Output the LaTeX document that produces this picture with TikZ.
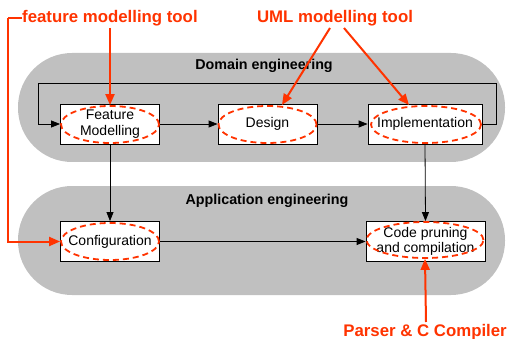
\documentclass[tikz,border=0pt]{standalone}
\usepackage{fontspec}
\setmainfont{Liberation Sans}
\usetikzlibrary{arrows.meta,shapes.geometric}
\definecolor{tred}{HTML}{FF3300}
\definecolor{pill}{HTML}{C0C0C0}
\begin{document}
\begin{tikzpicture}[x=1pt,y=-1pt,
  pillbg/.style={fill=pill,draw=none,rounded corners=54pt},
  procbox/.style={draw=black,fill=white,line width=0.8pt,minimum width=99pt,minimum height=40pt,inner sep=0pt,align=center,font=\fontsize{14}{15.5}\selectfont},
  tooloval/.style={draw=tred,dashed,dash pattern=on 6pt off 4pt,line width=1.8pt,ellipse,inner sep=0pt},
  flow/.style={draw=black,line width=0.8pt,-{Triangle[length=9pt,width=7pt]}},
  redflow/.style={draw=tred,line width=2pt,-{Triangle[length=11pt,width=9pt]}},
  redline/.style={draw=tred,line width=2pt},
  grouptitle/.style={font=\bfseries\fontsize{14.3}{16}\selectfont},
  tooltitle/.style={text=tred,font=\bfseries\fontsize{16.8}{18}\selectfont,inner sep=0pt}]
\useasboundingbox (0,0) rectangle (508,339);
% pills
\path[pillbg] (18,53) rectangle (505,162);
\path[pillbg] (18,186) rectangle (505,295);
\node[grouptitle] (dtitle) at (264,66) {Domain engineering};
\node[grouptitle] (atitle) at (267,201) {Application engineering};
% boxes
\node[procbox] (fm) at (110,124) {Feature\\Modelling};
\node[procbox] (des) at (267.5,124) {Design};
\node[procbox,minimum width=114pt] (imp) at (425,124) {Implementation};
\node[procbox] (conf) at (110,241.5) {Configuration};
\node[procbox,minimum width=119pt] (code) at (425.5,241.5) {Code pruning\\and compilation};
% black flows
\draw[flow] (fm) -- (des);
\draw[flow] (des) -- (imp);
\draw[flow] (fm) -- (conf);
\draw[flow] (imp.south) -- (code.north);
\draw[flow] (conf) -- (code);
\coordinate (lr) at (496,83);
\coordinate (ll) at (38,83);
\draw[flow] (imp.east) -- (lr |- imp.east) -- (lr) -- (ll) -- (ll |- fm.west) -- (fm.west);
% ovals
\node[tooloval,minimum width=98pt,minimum height=37pt] (ofm) at (110,124.5) {};
\node[tooloval,minimum width=98pt,minimum height=37pt] (odes) at (267.5,124.5) {};
\node[tooloval,minimum width=110pt,minimum height=37pt] (oimp) at (426,124.5) {};
\node[tooloval,minimum width=98pt,minimum height=37pt] (oconf) at (110,241.5) {};
\node[tooloval,minimum width=117pt,minimum height=36pt] (ocode) at (425,240) {};
% tool labels
\node[tooltitle,anchor=west] (fmt) at (22,18) {feature modelling tool};
\node[tooltitle] (umlt) at (335,18) {UML modelling tool};
\node[tooltitle,anchor=east] (pct) at (507,332) {Parser \& C Compiler};
\coordinate (fmtl) at (8,18);
\draw[redline] (fmt.west) -- (fmtl);
\draw[redflow] (fmtl) -- (fmtl |- conf.west) -- (oconf.west);
\draw[redflow] (110,28) -- (ofm.north);
\draw[redflow] (330,28) -- (282,105);
\draw[redflow] (344,28) -- (409,105);
\draw[redflow] (426,322) -- (ocode.south);
\end{tikzpicture}
\end{document}
